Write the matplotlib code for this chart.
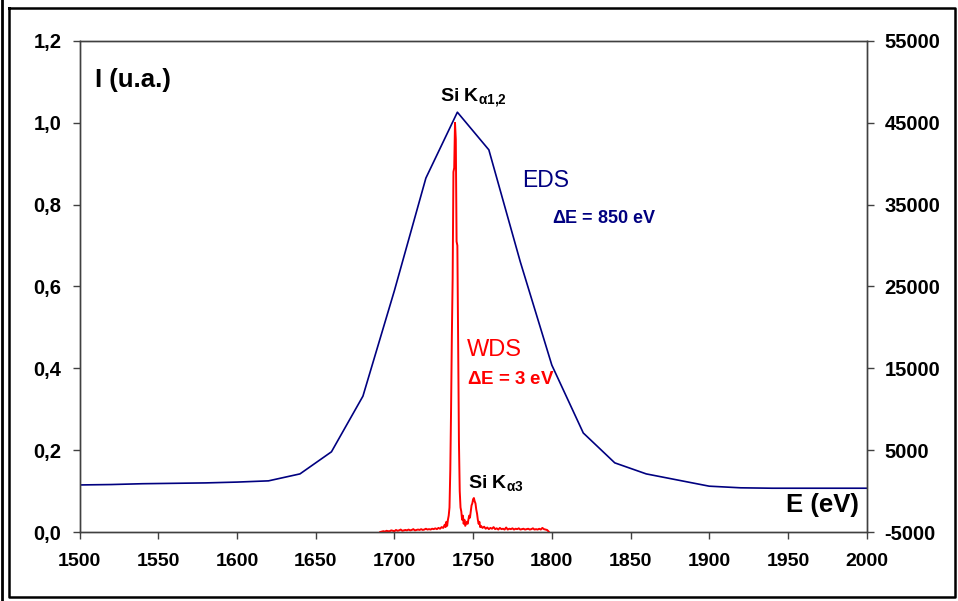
import matplotlib.pyplot as plt
from matplotlib.lines import Line2D
from matplotlib.ticker import FuncFormatter

plt.rcParams["font.family"] = ["Liberation Sans", "DejaVu Sans"]
plt.rcParams["font.weight"] = "bold"
plt.rcParams["axes.unicode_minus"] = False
plt.rcParams["mathtext.fontset"] = "custom"
plt.rcParams["mathtext.rm"] = "Liberation Sans:bold"
plt.rcParams["mathtext.it"] = "Liberation Sans:bold"
plt.rcParams["mathtext.bf"] = "Liberation Sans:bold"

# EDS spectrum (left axis units)
eds_energy = [1500, 1520, 1540, 1560, 1580, 1600, 1620, 1640, 1660, 1680, 1700,
              1720, 1740, 1760, 1780, 1800, 1820, 1840, 1860, 1880, 1900, 1920,
              1940, 1960, 1980, 2000]
eds_intensity = [0.115, 0.116, 0.118, 0.119, 0.120, 0.122, 0.125, 0.142, 0.196,
                 0.332, 0.590, 0.865, 1.026, 0.934, 0.660, 0.408, 0.242, 0.169,
                 0.142, 0.127, 0.112, 0.108, 0.107, 0.107, 0.107, 0.107]

# WDS spectrum
wds_energy = (list(range(1691, 1733))
              + [1732.5, 1733, 1733.5, 1734, 1734.5, 1735, 1735.5, 1736, 1736.5,
                 1737, 1737.5, 1738, 1738.5, 1739, 1739.5, 1740, 1740.5, 1741,
                 1741.5, 1742, 1742.5, 1743, 1743.5, 1744, 1744.5, 1745, 1745.5,
                 1746, 1746.5, 1747, 1747.5, 1748, 1748.5, 1749, 1749.5, 1750,
                 1750.5, 1751, 1751.5, 1752, 1752.5, 1753, 1753.5, 1754, 1754.5]
              + list(range(1755, 1799)))
wds_intensity = [
    0.000, 0.001, 0.002, 0.001, 0.003, 0.002, 0.002, 0.004, 0.003, 0.002,
    0.005, 0.003, 0.004, 0.006, 0.003, 0.004, 0.005, 0.004, 0.006, 0.004,
    0.005, 0.007, 0.004, 0.005, 0.006, 0.005, 0.007, 0.005, 0.006, 0.008,
    0.006, 0.007, 0.006, 0.008, 0.007, 0.009, 0.007, 0.010, 0.008, 0.012,
    0.010, 0.018,
    0.012, 0.025, 0.015, 0.030, 0.040, 0.060, 0.150, 0.300, 0.480,
    0.620, 0.880, 0.890, 1.000, 0.960, 0.710, 0.700, 0.450, 0.220,
    0.100, 0.060, 0.050, 0.030, 0.040, 0.020, 0.030, 0.015, 0.020,
    0.025, 0.020, 0.030, 0.040, 0.035, 0.050, 0.065, 0.070, 0.080,
    0.083, 0.075, 0.070, 0.055, 0.045, 0.030, 0.020, 0.025, 0.012,
    0.015, 0.010, 0.013, 0.008, 0.011, 0.007, 0.010, 0.008, 0.012, 0.007,
    0.009, 0.006, 0.010, 0.007, 0.008, 0.006, 0.011, 0.006, 0.008, 0.007,
    0.009, 0.006, 0.008, 0.007, 0.009, 0.006, 0.007, 0.008, 0.006, 0.007,
    0.008, 0.006, 0.007, 0.009, 0.006, 0.007, 0.006, 0.008, 0.006, 0.010,
    0.007, 0.006, 0.005, 0.001,
]

x_ticks = [1500, 1550, 1600, 1650, 1700, 1750, 1800, 1850, 1900, 1950, 2000]
left_ticks = [0.0, 0.2, 0.4, 0.6, 0.8, 1.0, 1.2]
right_ticks = [-5000, 5000, 15000, 25000, 35000, 45000, 55000]

navy = "#000080"
red = "#ff0000"
axis_color = "#404040"

fig = plt.figure(figsize=(9.58, 6.01), dpi=100)
ax = fig.add_axes([0.0831, 0.1148, 0.8215, 0.8170])

ax.plot(eds_energy, eds_intensity, color=navy, lw=1.2, zorder=2)
ax.plot(wds_energy, wds_intensity, color=red, lw=1.4, zorder=3)

ax.set_xlim(1500, 2000)
ax.set_ylim(0, 1.2)
ax.set_xticks(x_ticks)
ax.set_yticks(left_ticks)
ax.yaxis.set_major_formatter(FuncFormatter(lambda v, p: f"{v:.1f}".replace(".", ",")))
ax.tick_params(axis="y", direction="out", length=5, width=1, color=axis_color,
               labelsize=14.5, pad=8)
ax.tick_params(axis="x", direction="out", length=5, width=1, color=axis_color,
               labelsize=14, pad=10)
for sp in ax.spines.values():
    sp.set_color(axis_color)
    sp.set_linewidth(1)

ax2 = ax.twinx()
ax2.set_ylim(-5000, 55000)
ax2.set_yticks(right_ticks)
ax2.tick_params(axis="y", direction="out", length=5, width=1, color=axis_color,
                labelsize=14.5, pad=8)
for sp in ax2.spines.values():
    sp.set_color(axis_color)
    sp.set_linewidth(1)

ax.text(0.02, 0.945, "I (u.a.)", transform=ax.transAxes, fontsize=18.5,
        fontweight="bold", va="top", ha="left")
ax.text(0.99, 0.03, "E (eV)", transform=ax.transAxes, fontsize=18.5,
        fontweight="bold", va="bottom", ha="right")
ax.text(1750.5, 1.035, r"Si K$_{\alpha 1{,}2}$", fontsize=14, ha="center", va="bottom")
ax.text(1764.5, 0.095, r"Si K$_{\alpha 3}$", fontsize=14, ha="center", va="bottom")
ax.text(1781, 0.86, "EDS", color=navy, fontsize=16.5, fontweight="normal", va="center")
ax.text(1800, 0.765, r"$\Delta$E = 850 eV", color=navy, fontsize=13, va="center")
ax.text(1746, 0.445, "WDS", color=red, fontsize=17, fontweight="normal", va="center")
ax.text(1746, 0.372, r"$\Delta$E = 3 eV", color=red, fontsize=13.5, va="center")

# outer frame of the original figure
fig.add_artist(Line2D([2 / 958, 2 / 958], [0, 1], color="black", lw=2))
fig.add_artist(Line2D([9 / 958, 955 / 958, 955 / 958, 9 / 958, 9 / 958],
                      [1 - 8 / 601, 1 - 8 / 601, 1 - 597 / 601, 1 - 597 / 601, 1 - 8 / 601],
                      color="black", lw=1.8))

fig.savefig("out.png", dpi=100)
